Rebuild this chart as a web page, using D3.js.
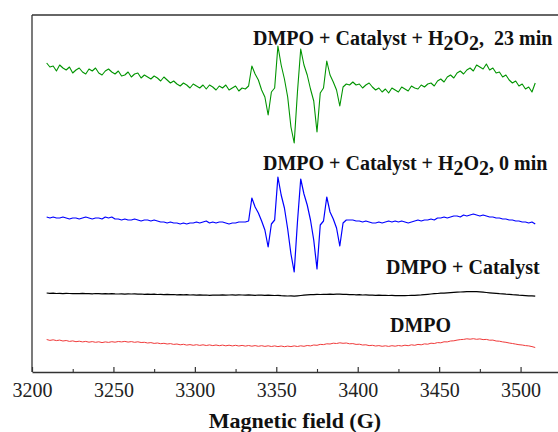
<!DOCTYPE html>
<html>
<head>
<meta charset="utf-8">
<script src="https://cdn.jsdelivr.net/npm/d3@7"></script>
<style>
  body { margin: 0; background: #fff; }
  svg { display: block; }
  svg text { font-family: "Liberation Serif", "DejaVu Serif", "Times New Roman", serif; }
</style>
</head>
<body>
<svg id="chart" width="558" height="432"></svg>
<script>
const serifFont = "'Liberation Serif', 'DejaVu Serif', 'Times New Roman', serif";

// field sweep (G), one point every 2 G
const field = d3.range(3209, 3511, 2);

const majorTicks = [3200, 3250, 3300, 3350, 3400, 3450, 3500];
const minorTicks = [3225, 3275, 3325, 3375, 3425, 3475];

// vertical stacking of the spectra (a.u.)
const stackOffset = [30, 78, 150, 285];

// DMPO
const redSignal = [
  2.5, 1.6, 2.2, 1.4, 1.9, 1.0, 1.5, 0.6, 1.1, 0.3,
  0.8, 0.1, 0.6, -0.2, 0.4, -0.3, 0.2, -0.6, 0.1, -0.4,
  0.3, -0.2, 0.5, 0.1, 0.6, -0.1, 0.4, -0.3, 0.2, -0.5,
  -0.3, -1.0, -0.6, -1.4, -1.0, -1.7, -1.3, -2.0, -1.6, -2.4,
  -2.0, -2.8, -2.3, -3.1, -2.6, -3.3, -2.7, -3.4, -2.8, -3.5,
  -2.9, -3.6, -3.0, -3.7, -3.1, -3.8, -3.2, -3.9, -3.3, -4.0,
  -3.4, -4.1, -3.5, -4.2, -3.6, -4.3, -3.7, -4.4, -3.8, -4.5,
  -3.9, -4.6, -4.0, -4.7, -4.1, -4.6, -3.9, -4.5, -3.8, -4.3,
  -3.5, -3.9, -3.0, -3.3, -2.4, -2.6, -1.8, -2.0, -1.2, -1.5,
  -0.8, -1.3, -1.0, -1.8, -1.6, -2.4, -2.2, -3.0, -2.8, -3.6,
  -3.3, -4.0, -3.6, -4.3, -3.8, -4.4, -3.7, -4.2, -3.5, -4.0,
  -3.2, -3.7, -2.8, -3.3, -2.4, -2.8, -1.9, -2.2, -1.2, -1.5,
  -0.6, -0.8, 0.2, 0.1, 1.0, 1.2, 1.9, 2.4, 2.6, 3.2,
  2.8, 3.3, 2.7, 3.1, 2.4, 2.6, 1.8, 1.9, 1.0, 0.8,
  0.1, -0.3, -1.0, -1.5, -2.1, -2.7, -3.0, -3.6, -3.9, -4.6,
  -5.5
];

// DMPO + Catalyst
const blackSignal = [
  1, 0.6, 0.8, 0.5, 0.7, 0.4, 0.6, 0.5, 0.3, 0.5,
  0.4, 0.6, 0.3, 0.4, 0.2, 0.5, 0.3, 0.1, 0.3, 0.2,
  0.4, 0.1, 0, 0.2, -0.1, 0.1, 0, 0.2, -0.1, 0,
  -0.3, -0.1, -0.4, -0.2, -0.5, -0.3, -0.6, -0.4, -0.7, -0.5,
  -0.8, -0.6, -0.9, -0.7, -1.0, -0.8, -1.1, -0.9, -1.2, -1.0,
  -1.3, -1.1, -1.0, -1.2, -0.9, -1.1, -1.0, -0.8, -1.1, -0.9,
  -1.0, -1.2, -0.9, -1.1, -1.3, -1.0, -1.2, -1.4, -1.1, -1.3,
  -1.5, -1.3, -1.6, -1.8, -2.0, -1.9, -2.2, -1.8, -1.5, -1.2,
  -0.9, -0.6, -0.7, -0.4, -0.5, -0.3, -0.4, -0.2, -0.3, -0.1,
  -0.2, -0.4, -0.3, -0.6, -0.5, -0.8, -0.7, -1.0, -0.9, -1.2,
  -1.1, -1.3, -1.2, -1.4, -1.3, -1.5, -1.4, -1.6, -1.5, -1.7,
  -1.6, -1.5, -1.3, -1.4, -1.1, -0.9, -0.6, -0.3, 0, 0.3,
  0.5, 0.8, 0.9, 1.2, 1.4, 1.6, 1.8, 2.0, 2.2, 2.4,
  2.5, 2.4, 2.3, 2.1, 1.8, 1.5, 1.2, 0.9, 0.6, 0.3,
  0.1, -0.2, -0.4, -0.7, -0.9, -1.2, -1.4, -1.6, -1.8, -1.9,
  -2.2
];

// DMPO + Catalyst + H2O2, 0 min
const blueSignal = [
  5, 4, 5, 4, 4, 5, 4, 3, 4, 4,
  3, 4, 5, 4, 3, 4, 4, 3, 5, 4,
  5, 3, 3, 2, 3, 2, 2, 3, 2, 1,
  2, 2, 1, 2, 1, 0, 0, -1, 0, -1,
  -1, -2, -1, -2, -1, -1, 0, -1, 0, 1,
  -1, 0, -1, 0, 0, -1, -2, -1, -1, 0,
  0,
  0, 1, 24, 15, 9, 1, -8, -25, -2, 2,
  45, 27, 14, -7, -32, -50, 0, 43, 28, 17,
  2, -18, -47, -3, 1, 25, 10, 3, -6, -24,
  -1, 2, 2,
  2, 1, 1, 0, 1, 0, -1, -1, 0, -1,
  0, 1, 0, 1, 0, 1, 0, -1, 0, 1,
  2, 1, 2, 2, 3, 2, 4, 4, 5, 4,
  5, 6, 6, 5, 7, 6, 7, 8, 7, 6,
  7, 6, 5, 5, 4, 4, 3, 3, 2, 2,
  1, 1, 0, 0, -1, 0, -2
];

// DMPO + Catalyst + H2O2, 23 min
const greenSignal = [
  24, 20, 21, 16, 22, 19, 17, 20, 14, 17,
  19, 15, 13, 18, 16, 19, 14, 12, 16, 18,
  15, 13, 16, 11, 12, 15, 10, 13, 14, 9,
  12, 10, 8, 11, 9, 6, 10, 7, 4, 6,
  3, 1, 4, 2, -1, 3, 1, -1, 2, -2,
  2, 0, -3, 1, -1, 2, -3, -1, 1, -4,
  -1,
  -2, 1, 21, 13, 7, -3, -10, -28, -5, -1,
  41, 22, 8, -10, -40, -56, -5, 38, 22, 12,
  -2, -14, -45, -6, -1, 26, 12, 5, -3, -19,
  0, 3, 2,
  5, 2, 3, -1, 2, 4, 0, -3, -1, -5,
  -2, -6, -1, -3, -5, 0, -2, -4, 1, -1,
  -2, 2, 0, 3, 4, 1, 6, 8, 5, 10,
  12, 9, 14, 16, 13, 17, 19, 16, 22, 20,
  18, 23, 17, 19, 14, 15, 10, 12, 7, 4,
  6, 1, 3, -2, 0, -5, 4
];

const svg = d3.select("#chart").attr("font-family", serifFont);

const x = d3.scaleLinear().domain([3200, 3550]).range([32, 602]);
const y = d3.scaleLinear().domain([0, 357]).range([372, 15]);

const traces = [
  { values: redSignal,   offset: stackOffset[0], color: "#f03a3a", width: 1 },
  { values: blackSignal, offset: stackOffset[1], color: "#000000", width: 1.2 },
  { values: blueSignal,  offset: stackOffset[2], color: "#0000ff", width: 1.2 },
  { values: greenSignal, offset: stackOffset[3], color: "#009400", width: 1.1 }
];

traces.forEach(t => {
  const line = d3.line()
    .x((d, i) => x(field[i]))
    .y(d => y(d + t.offset));
  svg.append("path")
    .datum(t.values)
    .attr("fill", "none")
    .attr("stroke", t.color)
    .attr("stroke-width", t.width)
    .attr("stroke-linejoin", "round")
    .attr("d", line);
});

// frame (left + top), right side is cut off
svg.append("line")
  .attr("x1", 32).attr("x2", 32).attr("y1", y(357)).attr("y2", y(0))
  .attr("stroke", "#333").attr("stroke-width", 1.3);
svg.append("line")
  .attr("x1", 32).attr("x2", 558).attr("y1", y(357)).attr("y2", y(357))
  .attr("stroke", "#333").attr("stroke-width", 1.3);

// x axis, ticks pointing inward
const axis = svg.append("g")
  .attr("transform", `translate(0,${y(0)})`)
  .call(d3.axisBottom(x).tickValues(majorTicks).tickSizeInner(-5).tickSizeOuter(0)
    .tickPadding(11).tickFormat(d3.format("d")))
  .attr("font-family", serifFont)
  .attr("font-size", 20);
axis.select(".domain").attr("stroke", "#333").attr("stroke-width", 1.3);
axis.selectAll(".tick line").attr("stroke", "#333").attr("stroke-width", 1.2);
axis.selectAll(".tick text")
  .attr("font-family", serifFont)
  .attr("font-size", 20)
  .attr("fill", "#222");

const minor = svg.append("g")
  .attr("transform", `translate(0,${y(0)})`)
  .call(d3.axisBottom(x).tickValues(minorTicks).tickSize(-3).tickFormat(""));
minor.select(".domain").remove();
minor.selectAll(".tick line").attr("stroke", "#333").attr("stroke-width", 1.1);

svg.append("text")
  .attr("x", 295).attr("y", 428)
  .attr("text-anchor", "middle")
  .attr("font-family", serifFont)
  .attr("font-size", 22).attr("font-weight", "bold").attr("fill", "#111")
  .text("Magnetic field (G)");

// trace labels
function plainLabel(px, py, str) {
  svg.append("text")
    .attr("x", px).attr("y", py)
    .attr("font-family", serifFont)
    .attr("font-size", 20).attr("font-weight", "bold").attr("fill", "#111")
    .text(str);
}

function h2o2Label(px, py, tail) {
  const t = svg.append("text")
    .attr("x", px).attr("y", py)
    .attr("font-family", serifFont)
    .attr("font-size", 20).attr("font-weight", "bold").attr("fill", "#111")
    .attr("xml:space", "preserve");
  t.append("tspan").text("DMPO + Catalyst + H");
  t.append("tspan").attr("dy", 5).text("2");
  t.append("tspan").attr("dy", -5).text("O");
  t.append("tspan").attr("dy", 5).text("2");
  t.append("tspan").attr("dy", -5).text(tail);
}

h2o2Label(253, 45, ",  23 min");
h2o2Label(263, 170, ", 0 min");
plainLabel(386, 274, "DMPO + Catalyst");
plainLabel(390, 332, "DMPO");
</script>
</body>
</html>
